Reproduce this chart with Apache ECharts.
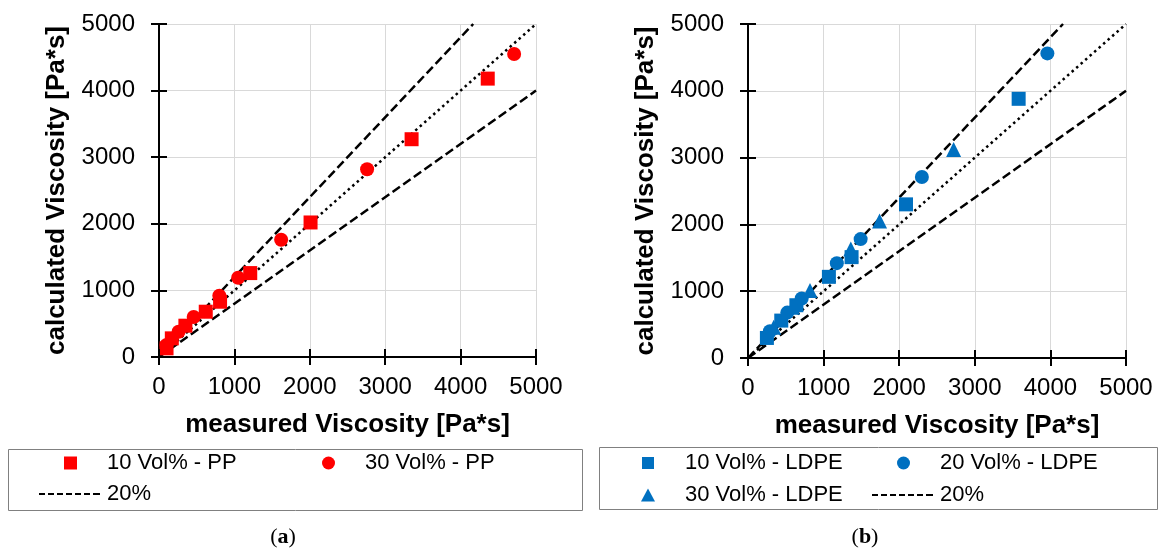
<!DOCTYPE html>
<html lang="en">
<head>
    <meta charset="UTF-8">
    <title>Viscosity PP / LDPE</title>
    <script src="https://cdn.jsdelivr.net/npm/echarts@6/dist/echarts.min.js"></script>
    <style>
        html, body { margin: 0; padding: 0; background: #fff; }
        #main { width: 1161px; height: 551px; }
    </style>
</head>
<body>
    <div id="main"></div>
    <script>
        // measured / calculated viscosity [Pa*s]
        var ppSq = [[100, 130], [170, 280], [350, 470], [620, 680], [810, 830], [1210, 1260], [2010, 2020], [3350, 3270], [4360, 4180]];
        var ppCi = [[100, 180], [260, 380], [460, 600], [800, 920], [1050, 1190], [1620, 1760], [2760, 2820], [4710, 4550]];

        var ldSq = [[250, 300], [440, 560], [640, 790], [1070, 1215], [1370, 1510], [2090, 2300], [3580, 3880]];
        var ldCi = [[290, 400], [520, 680], [710, 890], [1175, 1420], [1490, 1780], [2300, 2710], [3960, 4560]];
        var ldTr = [[340, 460], [590, 760], [820, 1010], [1360, 1630], [1740, 2050], [2720, 3120]];

        // reference lines: y = x and +-20%
        var unity = [[0, 0], [5000, 5000]];
        var upper20 = [[0, 0], [4167, 5000]];
        var lower20 = [[0, 0], [5000, 4000]];

        var axMin = 0, axMax = 5000, axStep = 1000;

        var RED = '#FF0000';
        var BLUE = '#0070C0';
        var FONT = 'Liberation Sans';

        var myChart = echarts.init(document.getElementById('main'));

        function mainAxis(dim, grid, name) {
            var ax = {
                type: 'value',
                gridIndex: grid,
                min: axMin, max: axMax, interval: axStep,
                name: name,
                nameLocation: 'middle',
                nameTextStyle: { fontFamily: FONT, fontSize: 26, fontWeight: 'bold', color: '#000' },
                axisLine: { show: true, onZero: false, lineStyle: { color: '#000', width: 2 } },
                axisTick: { show: true, inside: false, length: 8, lineStyle: { color: '#000', width: 2 } },
                axisLabel: { fontFamily: FONT, fontSize: 24, color: '#000', formatter: function (v) { return String(v); } },
                splitLine: { show: true, lineStyle: { color: '#D9D9D9', width: 1 } }
            };
            if (dim === 'x') {
                ax.position = 'bottom';
                ax.nameGap = 55;
                ax.axisLabel.margin = 18;
            } else {
                ax.position = 'left';
                ax.nameGap = 89;
                ax.nameRotate = 90;
                ax.axisLabel.margin = 24;
            }
            return ax;
        }

        // second axis only for the inner half of the crossing ticks
        function tickAxis(dim, grid) {
            return {
                type: 'value',
                gridIndex: grid,
                position: dim === 'x' ? 'bottom' : 'left',
                min: axMin, max: axMax, interval: axStep,
                axisLine: { show: false, onZero: false },
                axisTick: { show: true, inside: true, length: 8, lineStyle: { color: '#000', width: 2 } },
                axisLabel: { show: false },
                splitLine: { show: false },
                silent: true,
                z: 5
            };
        }

        function refLine(name, data, xi, yi, dash, w) {
            return {
                name: name,
                type: 'line',
                xAxisIndex: xi, yAxisIndex: yi,
                data: data,
                symbol: 'none',
                silent: true,
                color: '#000',
                lineStyle: { color: '#000', width: w, type: dash },
                z: 1
            };
        }

        function pts(name, data, xi, yi, sym, size, col) {
            return {
                name: name,
                type: 'scatter',
                xAxisIndex: xi, yAxisIndex: yi,
                data: data,
                symbol: sym,
                symbolSize: size,
                itemStyle: { color: col, opacity: 1 },
                z: 3
            };
        }

        var dashIcon = 'path://M0,0h6v2h-6z M9,0h6v2h-6z M18,0h6v2h-6z M27,0h6v2h-6z M36,0h6v2h-6z M45,0h6v2h-6z M54,0h7v2h-7z';

        function legendItem(name, icon, w, h, left, top, pad) {
            return {
                data: [{ name: name, icon: icon }],
                left: left, top: top,
                orient: 'horizontal',
                padding: 0,
                itemWidth: w, itemHeight: h,
                selectedMode: false,
                textStyle: { fontFamily: FONT, fontSize: 22, color: '#000', lineHeight: 22, padding: [0, 0, 0, pad] }
            };
        }

        var option = {
            animation: false,
            backgroundColor: '#fff',
            grid: [
                { left: 159, top: 24, width: 377, height: 333 },
                { left: 748, top: 24, width: 378, height: 334 }
            ],
            xAxis: [
                mainAxis('x', 0, 'measured Viscosity [Pa*s]'),
                mainAxis('x', 1, 'measured Viscosity [Pa*s]'),
                tickAxis('x', 0),
                tickAxis('x', 1)
            ],
            yAxis: [
                mainAxis('y', 0, 'calculated Viscosity [Pa*s]'),
                mainAxis('y', 1, 'calculated Viscosity [Pa*s]'),
                tickAxis('y', 0),
                tickAxis('y', 1)
            ],
            legend: [
                legendItem('10 Vol% - PP', 'rect', 13, 13, 64, 452, 25),
                legendItem('30 Vol% - PP', 'circle', 13, 13, 322, 452, 25),
                legendItem('20%', dashIcon, 61, 2, 39, 483, 2),
                legendItem('10 Vol% - LDPE', 'rect', 12, 12, 642, 452, 26),
                legendItem('20 Vol% - LDPE', 'circle', 13, 13, 897, 452, 25),
                legendItem('30 Vol% - LDPE', 'triangle', 14, 13, 641, 484, 25),
                legendItem('20%', dashIcon, 61, 2, 872, 484, 2)
            ],
            series: [
                refLine('1:1', unity, 0, 0, [2.5, 3.5], 2.5),
                refLine('20%', upper20, 0, 0, [9, 4], 2.5),
                refLine('20%', lower20, 0, 0, [9, 4], 2.5),
                pts('10 Vol% - PP', ppSq, 0, 0, 'rect', 14, RED),
                pts('30 Vol% - PP', ppCi, 0, 0, 'circle', 14, RED),

                refLine('1:1 ', unity, 1, 1, [2.5, 3.5], 2.5),
                refLine('20%', upper20, 1, 1, [9, 4], 2.5),
                refLine('20%', lower20, 1, 1, [9, 4], 2.5),
                pts('10 Vol% - LDPE', ldSq, 1, 1, 'rect', 14, BLUE),
                pts('20 Vol% - LDPE', ldCi, 1, 1, 'circle', 14, BLUE),
                pts('30 Vol% - LDPE', ldTr, 1, 1, 'triangle', 15, BLUE)
            ],
            graphic: [
                { type: 'rect', silent: true, z: -1, shape: { x: 8.5, y: 449.5, width: 574, height: 61 },
                  style: { fill: 'none', stroke: '#808080', lineWidth: 1 } },
                { type: 'rect', silent: true, z: -1, shape: { x: 599.5, y: 447.5, width: 558, height: 62 },
                  style: { fill: 'none', stroke: '#808080', lineWidth: 1 } },
                { type: 'text', silent: true, x: 283, y: 537,
                  style: { text: '{p|(}{b|a}{p|)}', align: 'center', verticalAlign: 'middle',
                           rich: { p: { fontFamily: 'Liberation Serif', fontSize: 22, fill: '#000' },
                                   b: { fontFamily: 'Liberation Serif', fontSize: 22, fontWeight: 'bold', fill: '#000' } } } },
                { type: 'text', silent: true, x: 865, y: 537,
                  style: { text: '{p|(}{b|b}{p|)}', align: 'center', verticalAlign: 'middle',
                           rich: { p: { fontFamily: 'Liberation Serif', fontSize: 22, fill: '#000' },
                                   b: { fontFamily: 'Liberation Serif', fontSize: 22, fontWeight: 'bold', fill: '#000' } } } }
            ]
        };

        myChart.setOption(option);
    </script>
</body>
</html>
